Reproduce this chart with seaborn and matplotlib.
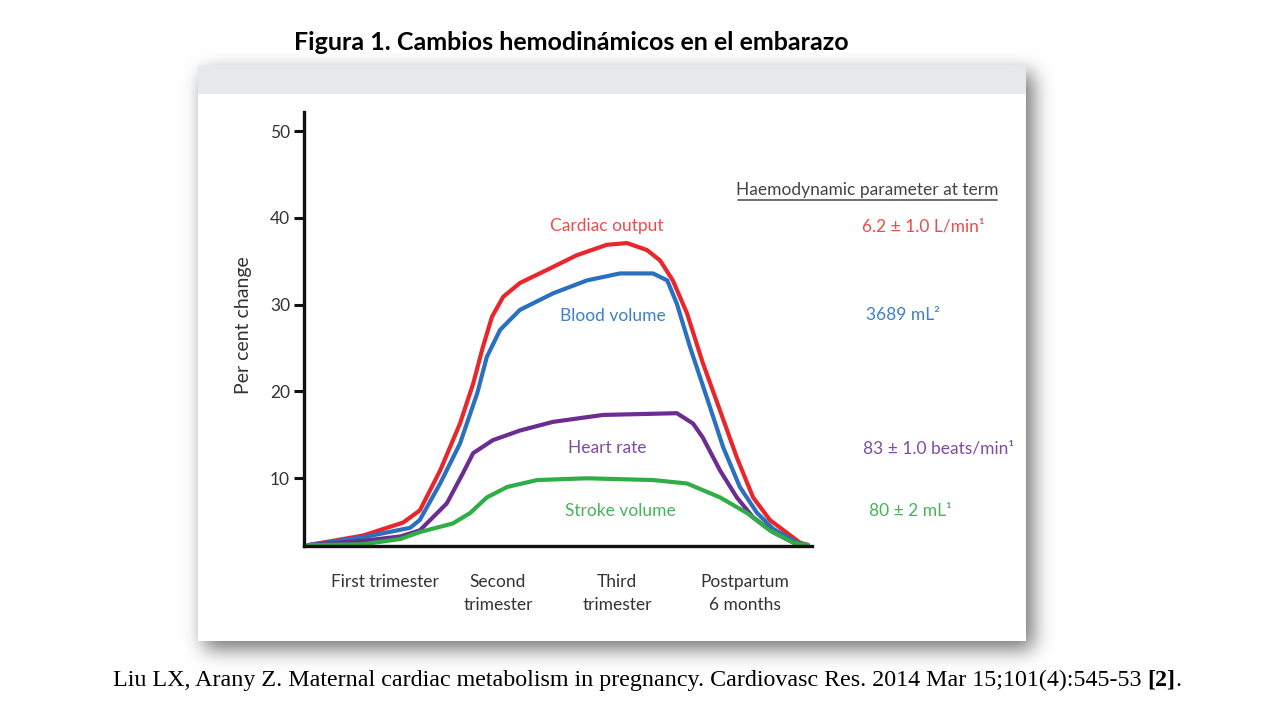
import numpy as np
import pandas as pd
import matplotlib
matplotlib.use("Agg")
import matplotlib.pyplot as plt
from matplotlib.lines import Line2D
from matplotlib.patches import Rectangle
import seaborn as sns

# ── data (x: 0..100 along the time axis, y: per cent change) ─────────
cardiac_x = [0.8, 11.6, 19.5, 22.8, 26.8, 30.7, 33.3, 35.2, 37.0, 39.2, 42.5,
             47.8, 53.7, 59.6, 63.6, 67.5, 70.1, 72.6, 75.4, 78.5, 81.9,
             85.2, 88.4, 91.7, 95.1, 97.6, 99.2]
cardiac_y = [2.3, 3.4, 4.9, 6.3, 10.9, 16.3, 20.9, 25.1, 28.6, 30.9, 32.5,
             34.0, 35.7, 36.9, 37.1, 36.3, 35.1, 32.8, 29.0, 23.3, 17.8,
             12.4, 7.8, 5.2, 3.7, 2.6, 2.3]

blood_x = [0.8, 11.6, 20.9, 22.8, 26.8, 30.7, 34.1, 36.0, 38.6, 42.5, 49.0,
           55.7, 62.2, 68.7, 71.5, 73.4, 76.0, 79.3, 82.5, 85.8, 89.2,
           92.3, 97.0, 99.2]
blood_y = [2.3, 3.2, 4.3, 5.2, 9.4, 14.0, 19.8, 24.0, 27.1, 29.4, 31.3,
           32.8, 33.6, 33.6, 32.8, 30.1, 25.1, 19.3, 13.6, 9.0, 6.0,
           4.2, 2.6, 2.3]

heart_x = [0.8, 11.6, 19.0, 22.8, 28.1, 31.3, 33.3, 37.2, 42.5, 49.0, 58.9,
           73.4, 76.6, 78.5, 81.9, 85.2, 88.4, 92.3, 96.3, 99.2]
heart_y = [2.3, 2.8, 3.3, 4.0, 7.1, 10.6, 12.9, 14.4, 15.5, 16.5, 17.3,
           17.5, 16.3, 14.7, 10.9, 7.8, 5.5, 3.8, 2.6, 2.3]

stroke_x = [0.8, 11.6, 18.9, 22.8, 29.3, 32.7, 36.0, 40.0, 45.9, 55.7, 68.7,
            75.4, 81.9, 87.2, 91.7, 96.3, 99.2]
stroke_y = [2.3, 2.4, 3.0, 3.8, 4.8, 6.0, 7.8, 9.0, 9.8, 10.0, 9.8,
            9.4, 7.8, 6.0, 4.0, 2.6, 2.3]

cat_pos    = [16.0, 38.2, 61.6, 86.8]
cat_labels = ["First trimester", "Second\ntrimester", "Third\ntrimester",
              "Postpartum\n6 months"]
y_ticks    = [10, 20, 30, 40, 50]

series_names  = ["Cardiac output", "Blood volume", "Heart rate", "Stroke volume"]
term_values   = ["6.2 ± 1.0 L/min¹", "3689 mL²", "83 ± 1.0 beats/min¹", "80 ± 2 mL¹"]
line_colors   = ["#e8262b", "#2a70c0", "#6b2d92", "#2fae48"]
text_colors   = ["#ee4b4b", "#3f7fc6", "#7e4ca2", "#45b55a"]

title    = "Figura 1. Cambios hemodinámicos en el embarazo"
citation = ("Liu LX, Arany Z. Maternal cardiac metabolism in pregnancy. "
            "Cardiovasc Res. 2014 Mar 15;101(4):545-53 ")

# ── style ────────────────────────────────────────────────
sns.set_theme(style="white")
plt.rcParams["font.family"] = ["Lato", "DejaVu Sans"]

W, H = 1280, 720
fig = plt.figure(figsize=(W / 100, H / 100), dpi=100)

def fx(px): return px / W
def fy(py): return 1 - py / H

# background + panel with soft shadow
bg = fig.add_axes([0, 0, 1, 1], zorder=0)
bg.set_xlim(0, W); bg.set_ylim(H, 0); bg.axis("off")
mask = np.zeros((H, W))
mask[73:649, 204:1033] = 1.0
k = 9
for _ in range(3):
    for axis in (0, 1):
        c = np.cumsum(np.pad(mask, [(k + 1, k) if a == axis else (0, 0) for a in (0, 1)],
                             mode="edge"), axis=axis)
        if axis == 0:
            mask = (c[2 * k + 1:, :] - c[:-2 * k - 1, :]) / (2 * k + 1)
        else:
            mask = (c[:, 2 * k + 1:] - c[:, :-2 * k - 1]) / (2 * k + 1)
shade = 1 - 0.55 * mask
bg.imshow(np.dstack([shade] * 3), extent=[0, W, H, 0], aspect="auto", zorder=0)
bg.add_patch(Rectangle((198, 65), 828, 576, facecolor="white", edgecolor="none", zorder=1))
bg.add_patch(Rectangle((198, 65), 828, 29, facecolor="#e7e8ea", edgecolor="none", zorder=2))

# ── chart ────────────────────────────────────────────────
ax = fig.add_axes([fx(304), fy(546), (812 - 304) / W, (546 - 112) / H], zorder=2)
ax.patch.set_alpha(0)

for xs, ys, col in zip([cardiac_x, blood_x, heart_x, stroke_x],
                       [cardiac_y, blood_y, heart_y, stroke_y], line_colors):
    df = pd.DataFrame({"x": xs, "y": ys})
    sns.lineplot(data=df, x="x", y="y", color=col, lw=3.0, ax=ax,
                 sort=False, estimator=None, solid_capstyle="round",
                 solid_joinstyle="round")

ax.set_xlim(0, 100)
ax.set_ylim(2.2, 52.2)
ax.set_yticks(y_ticks)
ax.set_xticks(cat_pos)
ax.set_xticklabels(cat_labels, fontsize=12.5, color="#333333", linespacing=1.55)
ax.tick_params(axis="x", length=0, pad=20)
ax.tick_params(axis="y", direction="out", length=7, width=2.2, color="#111111",
               labelsize=12.5, labelcolor="#333333", pad=3, left=True)
for s in ["top", "right"]:
    ax.spines[s].set_visible(False)
for s in ["left", "bottom"]:
    ax.spines[s].set_linewidth(2.4)
    ax.spines[s].set_color("#111111")
ax.set_xlabel("")
ax.set_ylabel("Per cent change", fontsize=14, color="#333333")
ax.yaxis.set_label_coords(-52 / 508, 0.509)

# series labels inside the chart
label_pos = [(607, 226), (613, 316), (607, 448), (620, 511)]
for name, (px, py), col in zip(series_names, label_pos, text_colors):
    fig.text(fx(px), fy(py), name, color=col, fontsize=12.5, ha="center", va="center")

# term values on the right
fig.text(fx(867), fy(190), "Haemodynamic parameter at term", color="#444444",
         fontsize=12.5, ha="center", va="center")
fig.add_artist(Line2D([fx(738), fx(997)], [fy(200), fy(200)], color="#555555", lw=1.2))
value_pos = [(862, 226), (866, 315), (863, 448), (869, 511)]
for val, (px, py), col in zip(term_values, value_pos, text_colors):
    fig.text(fx(px), fy(py), val, color=col, fontsize=12.5, ha="left", va="center")

# title and citation
fig.text(fx(571), fy(42), title, fontsize=18, fontweight="bold", color="black",
         ha="center", va="center")
serif = ["Liberation Serif", "DejaVu Serif"]
t = fig.text(fx(113), fy(680), citation, fontsize=17.3, color="black", ha="left",
             va="center", family=serif)
fig.canvas.draw()
bb = t.get_window_extent()
t2 = fig.text(bb.x1 / W, fy(680), "[2]", fontsize=17.3, fontweight="bold", color="black",
              ha="left", va="center", family=serif)
fig.canvas.draw()
bb2 = t2.get_window_extent()
fig.text(bb2.x1 / W, fy(680), ".", fontsize=17.3, color="black", ha="left",
         va="center", family=serif)

fig.savefig("out.png", dpi=100)
